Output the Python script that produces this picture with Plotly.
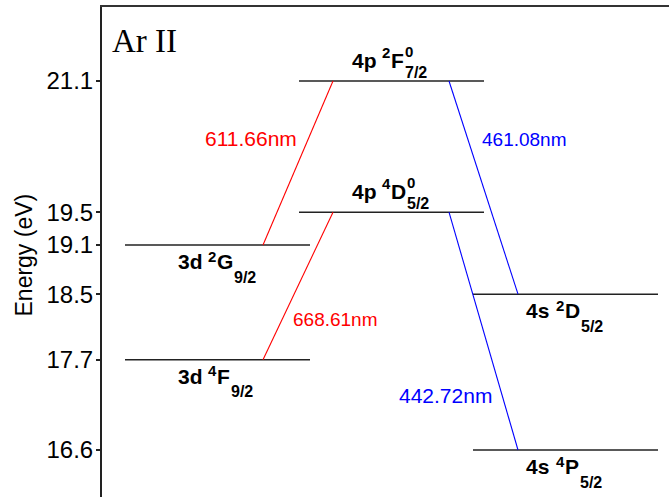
import plotly.graph_objects as go

# ---- data ----
level_energy = [19.1, 17.7, 21.1, 19.5, 18.5, 16.6]
level_column = [0, 0, 1, 1, 2, 2]
level_prefix = ["3d", "3d", "4p", "4p", "4s", "4s"]
level_mult = ["2", "4", "2", "4", "2", "4"]
level_term = ["G", "F", "F", "D", "D", "P"]
level_parity = ["", "", "0", "0", "", ""]
level_J = ["9/2", "9/2", "7/2", "5/2", "5/2", "5/2"]
level_label_side = ["below", "below", "above", "above", "below", "below"]

trans_upper = [2, 3, 2, 3]
trans_lower = [0, 1, 4, 5]
trans_label = ["611.66nm", "668.61nm", "461.08nm", "442.72nm"]
trans_color = ["#ff0000", "#ff0000", "#0000ff", "#0000ff"]

tick_values = [16.6, 17.7, 18.5, 19.1, 19.5, 21.1]
tick_text = ["16.6", "17.7", "18.5", "19.1", "19.5", "21.1"]

# ---- layout geometry (x axis in pixel-like units) ----
W, H = 669, 497
L, T = 102, 7
col_start = [125, 299, 473]
col_width = 185
px_per_ev = 82.0
y_top = 21.1 + (81 - T) / px_per_ev
y_bot = y_top - (H - T) / px_per_ev

fig = go.Figure()

# levels
for i, E in enumerate(level_energy):
    x0 = col_start[level_column[i]]
    fig.add_trace(go.Scatter(x=[x0, x0 + col_width], y=[E, E], mode="lines",
                             line=dict(color="#222222", width=1.4),
                             hoverinfo="skip", showlegend=False))

# transitions
for k in range(len(trans_upper)):
    u, l = trans_upper[k], trans_lower[k]
    cu, cl = level_column[u], level_column[l]
    if cl < cu:   # lower level on the left column
        xl = col_start[cl] + 138
        xu = col_start[cu] + 34
    else:         # lower level on the right column
        xu = col_start[cu] + 150
        xl = col_start[cl] + 45
    fig.add_trace(go.Scatter(x=[xl, xu], y=[level_energy[l], level_energy[u]], mode="lines",
                             line=dict(color=trans_color[k], width=1.1),
                             hoverinfo="skip", showlegend=False))

annotations = []
# transition labels
trans_label_pos = [(250.5, 138, 21), (335, 319.5, 19), (524.5, 139, 19), (445, 395, 21)]
for k, txt in enumerate(trans_label):
    px, py, fs = trans_label_pos[k]
    yv = y_top - (py - T) / px_per_ev
    annotations.append(dict(x=px, y=yv, xref="x", yref="y", text=txt, showarrow=False,
                            xanchor="center", yanchor="middle",
                            font=dict(family="Liberation Sans, Arial", size=fs, color=trans_color[k])))

letter_w = {"G": 0.778, "F": 0.611, "D": 0.722, "P": 0.667}
main_fs, sup_fs, sub_fs = 21, 15, 16
for i, E in enumerate(level_energy):
    x0 = col_start[level_column[i]] + 52
    if level_label_side[i] == "above":
        dy_main, dy_sup, dy_sub = 20.5, 29, 9
    else:
        dy_main, dy_sup, dy_sub = -16.5, -11, -32
    base = dict(xref="x", yref="y", y=E, showarrow=False, xanchor="left", yanchor="middle",
                borderpad=0)
    f_main = dict(family="Liberation Sans, Arial", size=main_fs, color="black")
    f_sup = dict(family="Liberation Sans, Arial", size=sup_fs, color="black")
    f_sub = dict(family="Liberation Sans, Arial", size=sub_fs, color="black")
    annotations.append(dict(base, x=x0, yshift=dy_main, text="<b>" + level_prefix[i] + "</b>", font=f_main))
    annotations.append(dict(base, x=x0 + 30, yshift=dy_sup, text="<b>" + level_mult[i] + "</b>", font=f_sup))
    annotations.append(dict(base, x=x0 + 39, yshift=dy_main, text="<b>" + level_term[i] + "</b>", font=f_main))
    xs = x0 + 39 + letter_w[level_term[i]] * main_fs + 1
    annotations.append(dict(base, x=xs, yshift=dy_sub, text="<b>" + level_J[i] + "</b>", font=f_sub))
    if level_parity[i]:
        annotations.append(dict(base, x=xs, yshift=dy_sup + 1, text="<b>" + level_parity[i] + "</b>", font=f_sup))

# panel label
annotations.append(dict(x=111, y=y_top - (41 - T) / px_per_ev, xref="x", yref="y", text="Ar II",
                        showarrow=False, xanchor="left", yanchor="middle", borderpad=0,
                        font=dict(family="Liberation Serif, Times New Roman", size=33, color="black")))
# y-axis title (x given in paper coordinates converted from pixels)
annotations.append(dict(x=(23 - L) / (W - L), y=y_top - (255.5 - T) / px_per_ev, xref="paper", yref="y",
                        text="Energy (eV)", textangle=-90, showarrow=False,
                        xanchor="center", yanchor="middle",
                        font=dict(family="Liberation Sans, Arial", size=23, color="black")))

fig.update_layout(
    width=W, height=H,
    margin=dict(l=L, r=0, t=T, b=0),
    paper_bgcolor="white", plot_bgcolor="white",
    showlegend=False,
    annotations=annotations,
    xaxis=dict(range=[L, W], side="top", showline=True, linecolor="#333333", linewidth=2,
               showticklabels=False, ticks="", showgrid=False, zeroline=False, fixedrange=True),
    yaxis=dict(range=[y_bot, y_top], showline=True, linecolor="#222222", linewidth=2,
               tickmode="array", tickvals=tick_values, ticktext=tick_text,
               ticks="outside", ticklen=4, tickwidth=1.5, tickcolor="#222222",
               ticklabelstandoff=-2,
               tickfont=dict(family="Liberation Sans, Arial", size=24, color="black"),
               showgrid=False, zeroline=False, fixedrange=True),
)

fig.write_html("out.html")
